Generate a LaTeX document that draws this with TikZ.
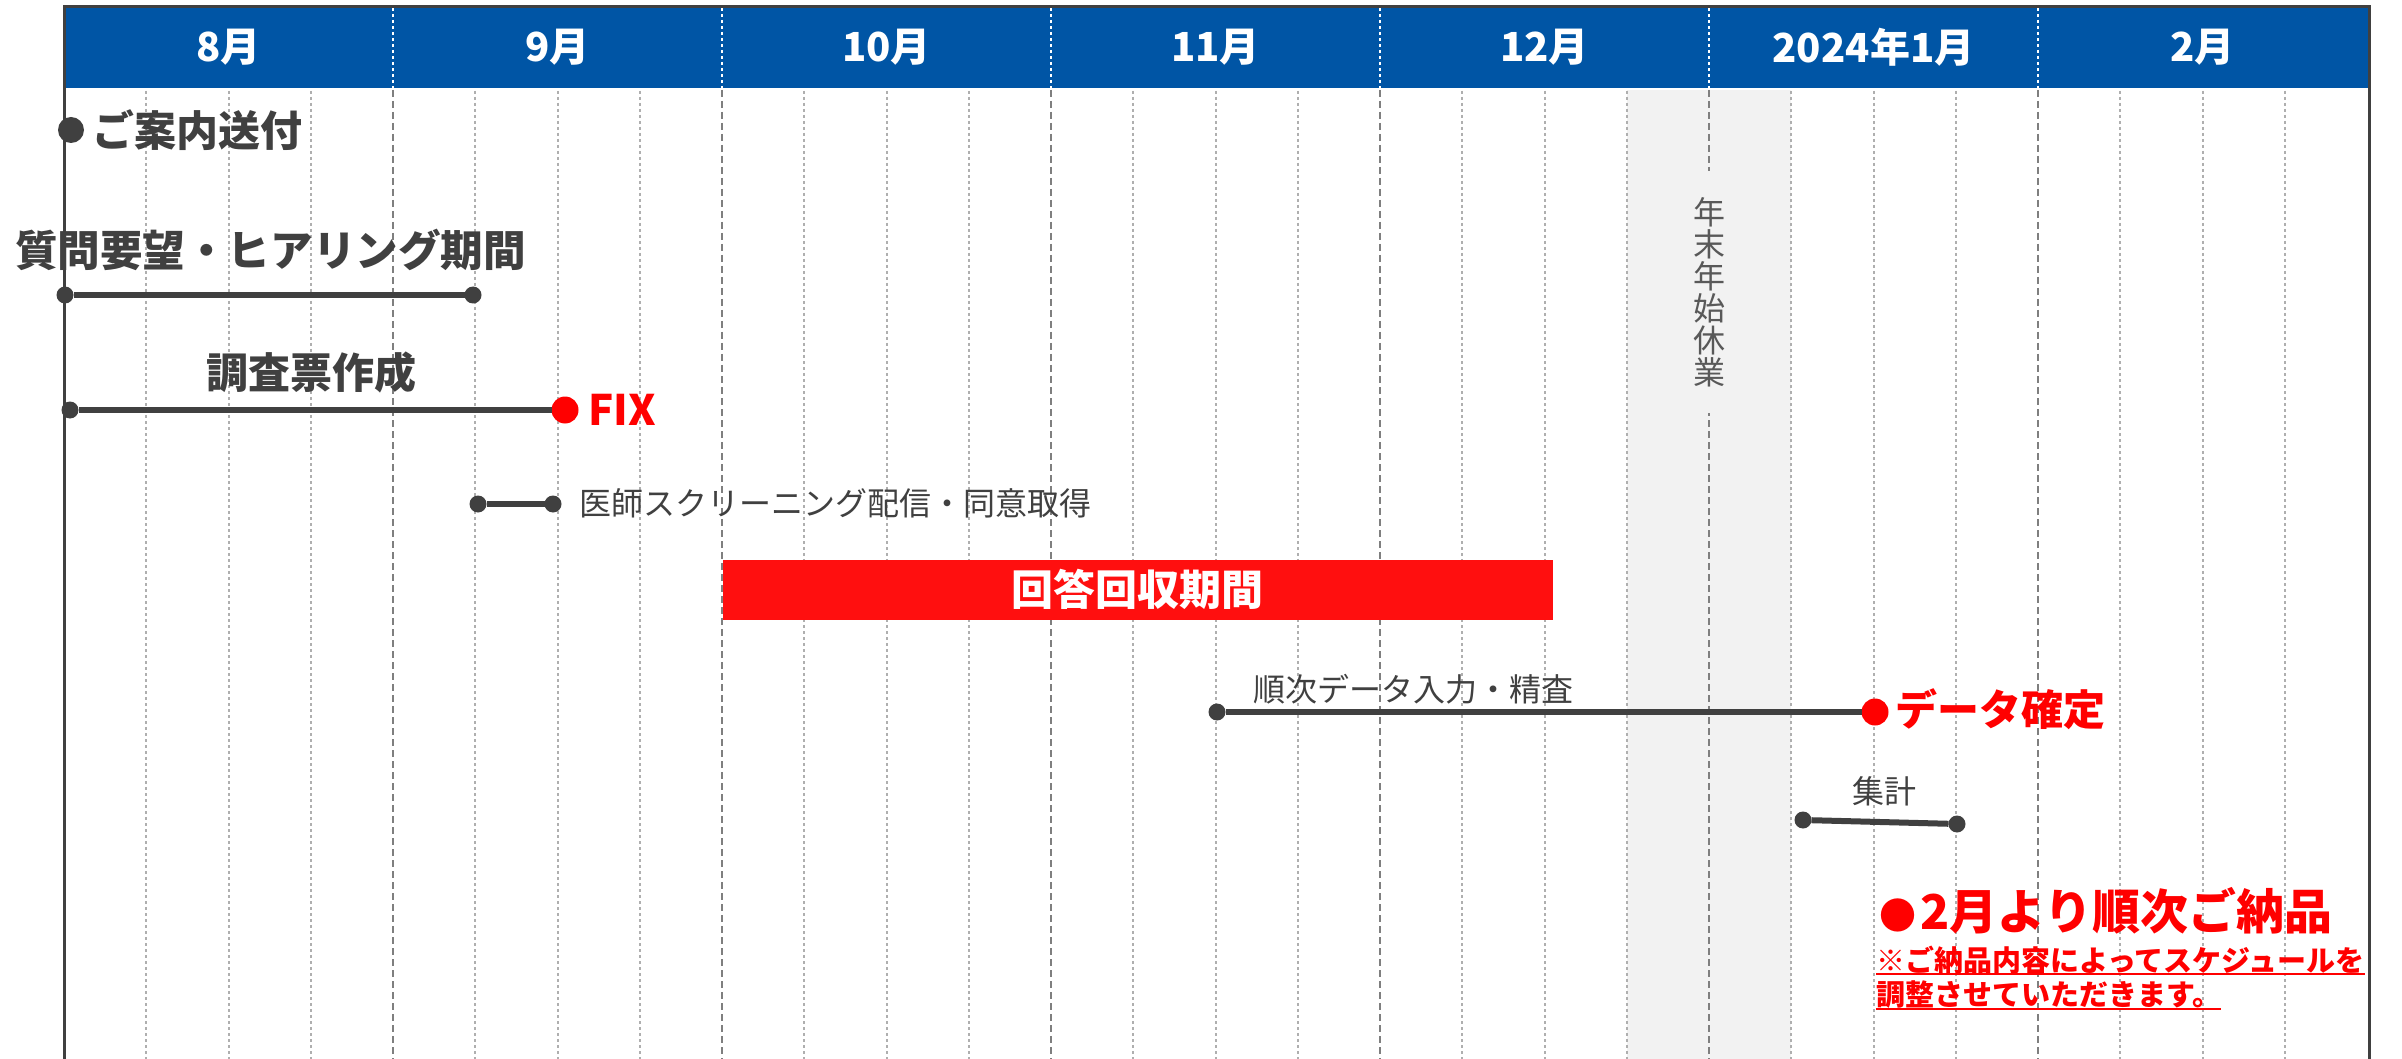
\documentclass[tikz,border=0pt]{standalone}
\usepackage{fontspec}
\setmainfont{Liberation Sans}
\newfontfamily\jp{Noto Sans CJK JP}
\newcommand{\jfs}[1]{\fontsize{#1}{#1}\selectfont}
\definecolor{hdr}{RGB}{0,85,165}
\definecolor{dk}{RGB}{64,64,64}
\definecolor{tx}{RGB}{64,64,64}
\definecolor{vt}{RGB}{89,89,89}
\definecolor{hol}{RGB}{242,242,242}
\definecolor{mline}{RGB}{127,127,127}
\definecolor{wline}{RGB}{175,175,175}
\definecolor{rd}{RGB}{255,0,0}
\definecolor{rbar}{RGB}{255,15,15}
\begin{document}
\begin{tikzpicture}[x=1pt,y=-1pt,
  every node/.style={inner sep=0pt,outer sep=0pt},
  month/.style={font=\jp\bfseries\jfs{40},text=white},
  bigtext/.style={font=\jp\bfseries\jfs{42},text=tx},
  smalltext/.style={font=\jp\jfs{32},text=tx},
  redtext/.style={font=\jp\bfseries\jfs{42},text=rd},
  notetext/.style={font=\jp\bfseries\jfs{29},text=rd},
  dot/.style={circle,fill=dk,minimum size=17pt},
  bigdot/.style={circle,fill=dk,minimum size=26pt},
  reddot/.style={circle,fill=rd,minimum size=27pt},
  bar/.style={draw=dk,line width=6pt},
  frameline/.style={draw=dk,line width=3pt},
  monthline/.style={draw=mline,line width=2.5pt,dash pattern=on 7pt off 4pt},
  weekline/.style={draw=wline,line width=2pt,dash pattern=on 3pt off 3pt},
  hdrline/.style={draw=white,line width=2pt,dash pattern=on 3pt off 3pt}]
\useasboundingbox (0,0) rectangle (2402,1059);
\fill[white] (0,0) rectangle (2402,1059);
% holiday band
\fill[hol] (1627,90) rectangle (1791,1059);
% header
\fill[hdr] (64,8) rectangle (2368,88);
% week lines
\foreach \m in {0,...,6} {
  \foreach \w in {1,2,3} {
    \draw[weekline] ({64+329*\m+82.25*\w},91) -- ({64+329*\m+82.25*\w},1059);
  }
}
% month lines
\foreach \m in {1,...,6} {
  \draw[monthline] ({64+329*\m},90) -- ({64+329*\m},1059);
  \draw[hdrline] ({64+329*\m},8) -- ({64+329*\m},88);
}
% frame
\draw[frameline] (64,1059) -- (64,7) -- (2369,7) -- (2369,1059);
% month labels
\node[month] (m8) at (228.5,47) {8月};
\node[month] (m9) at (557.5,47) {9月};
\node[month] (m10) at (886.5,47) {10月};
\node[month] (m11) at (1215.5,47) {11月};
\node[month] (m12) at (1544.5,47) {12月};
\node[month] (m1) at (1873.5,47) {2024年1月};
\node[month] (m2) at (2202.5,47) {2月};
% holiday text
\node[font=\jp\jfs{32},text=vt,fill=hol,align=center,inner xsep=4pt,inner ysep=26pt] (hol) at (1709,292) {年\\末\\年\\始\\休\\業};
% ご案内送付
\node[bigdot] (d0) at (71,130) {};
\node[bigtext,anchor=west] (t0) at (92,130) {ご案内送付};
% 質問要望
\node[bigtext,font=\jp\bfseries\jfs{42.6},anchor=west] (t1) at (15,250) {質問要望・ヒアリング期間};
\node[dot] (d1a) at (65,295) {};
\node[dot] (d1b) at (473,295) {};
\draw[bar] (d1a) -- (d1b);
% 調査票作成
\node[bigtext] (t2) at (311,372) {調査票作成};
\node[dot] (d2a) at (70,410) {};
\node[reddot] (d2b) at (565,410) {};
\draw[bar] (d2a) -- (d2b);
\node[redtext,anchor=west] (fix) at (588,410) {FIX};
% screening
\node[dot] (d3a) at (478,504) {};
\node[dot] (d3b) at (553,504) {};
\draw[bar] (d3a) -- (d3b);
\node[smalltext,anchor=west] (t3) at (579,503) {医師スクリーニング配信・同意取得};
% red bar
\node[fill=rbar,minimum width=830pt,minimum height=60pt,font=\jp\bfseries\jfs{42},text=white] (t4) at (1137.5,589.5) {回答回収期間};
% data entry
\node[smalltext,anchor=west] (t5) at (1253,689) {順次データ入力・精査};
\node[dot] (d5a) at (1217,712) {};
\node[reddot] (d5b) at (1875,712) {};
\draw[bar] (d5a) -- (d5b);
\node[redtext,anchor=west] (t5b) at (1895,709) {データ確定};
% 集計
\node[smalltext] (t6) at (1884,791) {集計};
\node[dot] (d6a) at (1803,820) {};
\node[dot] (d6b) at (1957,824) {};
\draw[bar] (d6a) -- (d6b);
% delivery
\node[font=\jp\bfseries\jfs{48},text=rd,anchor=west] (t7) at (1879,911) {{\jfs{37}●}\hspace{4pt}2月より順次ご納品};
\node[notetext,anchor=west] (n1) at (1876,960) {※ご納品内容によってスケジュールを};
\node[notetext,anchor=west] (n2) at (1876,995) {調整させていただきます。};
\draw[rd,line width=2.5pt] (n1.south west) -- (n1.south east);
\draw[rd,line width=2.5pt] (n2.south west) -- (n2.south east);
\end{tikzpicture}
\end{document}
